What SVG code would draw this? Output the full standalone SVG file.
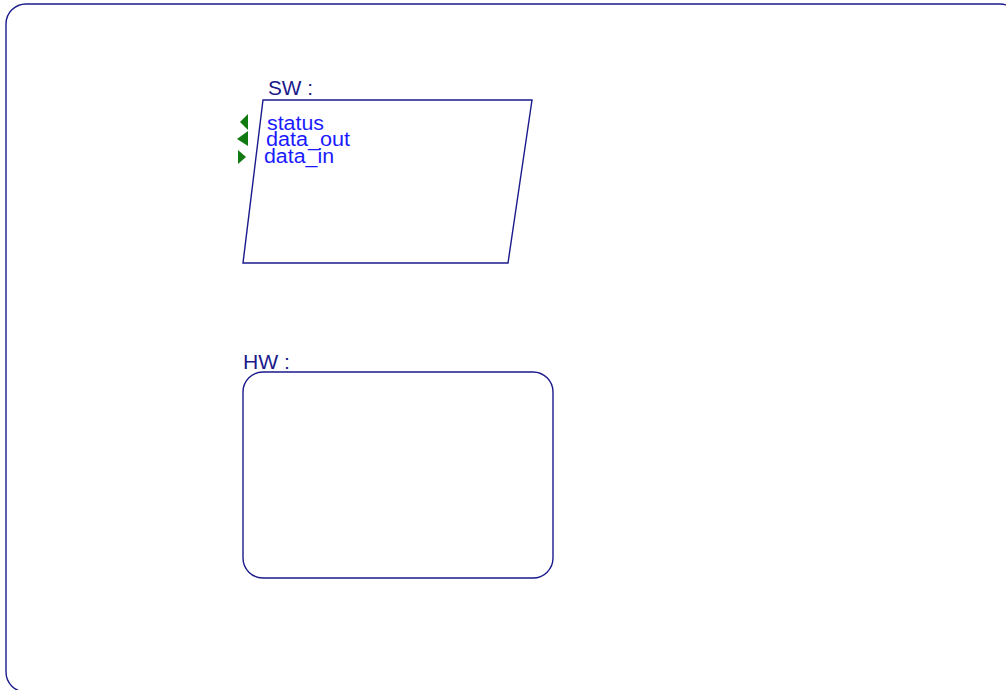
<svg xmlns="http://www.w3.org/2000/svg" width="1006" height="690" viewBox="0 0 1006 690">
<style>
.shape{fill:none;stroke:#1a1a8c;stroke-width:1.4}
.lbl{font-family:"Liberation Sans",Arial,sans-serif;font-size:20px;fill:#1a1a8c}
.port{font-family:"Liberation Sans",Arial,sans-serif;font-size:20px;fill:#1a1aff}
.tri{fill:#117a11}
</style>
<rect width="1006" height="690" fill="#fff"/>
<g id="frame"><rect class="shape" x="6" y="4" width="1014" height="688" rx="20"/></g>
<g id="SW">
<text class="lbl" x="268" y="95" textLength="45" lengthAdjust="spacingAndGlyphs">SW :</text>
<polygon class="shape" points="263,100 532,100 508,263 243,263"/>
<polygon class="tri" points="248,114 248,130 240,122"/>
<text class="port" x="267" y="130" textLength="57" lengthAdjust="spacingAndGlyphs">status</text>
<polygon class="tri" points="248,131 248,146 237,139"/>
<text class="port" x="266" y="146" textLength="84" lengthAdjust="spacingAndGlyphs">data_out</text>
<polygon class="tri" points="238,150 238,164 246,157"/>
<text class="port" x="264" y="163" textLength="70" lengthAdjust="spacingAndGlyphs">data_in</text>
</g>
<g id="HW">
<text class="lbl" x="243" y="369" textLength="47" lengthAdjust="spacingAndGlyphs">HW :</text>
<rect class="shape" x="243" y="372" width="310" height="206" rx="20"/>
</g>
<g id="connectors"></g>
</svg>
